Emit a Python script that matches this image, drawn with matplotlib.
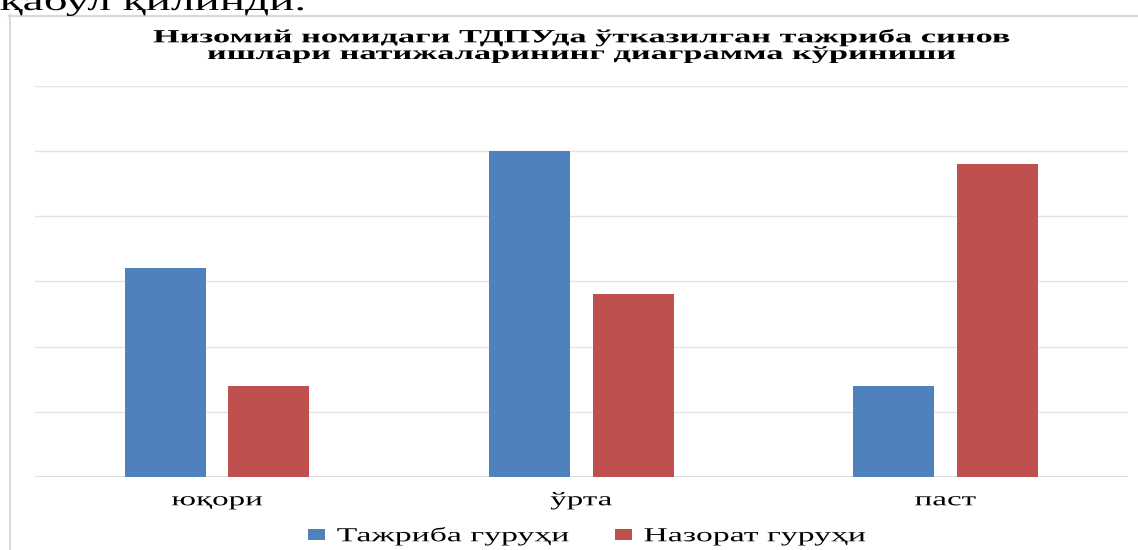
"""
Diagramma: Низомий номидаги ТДПУда тажриба синов ишлари натижалари
"""

import matplotlib
matplotlib.use('Agg')
import matplotlib.pyplot as plt
import numpy as np
from matplotlib.patheffects import AbstractPathEffect
from matplotlib.transforms import Affine2D
from matplotlib.lines import Line2D

# Data
categories = ['юқори', 'ўрта', 'паст']
tajriba = [3.2, 5.0, 1.4]
nazorat = [1.4, 2.8, 4.8]
series_names = ['Тажриба гуруҳи', 'Назорат гуруҳи']
title_lines = ['Низомий номидаги ТДПУда ўтказилган тажриба синов',
               'ишлари натижаларининг диаграмма кўриниши']
top_text = 'қабул қилинди.'

BLUE = '#4F81BD'
RED = '#C0504D'
GRID = '#E4E4E4'
AXIS = '#D9D9D9'
SX = 1.7          # the scanned chart is stretched sideways
W, H = 1138, 550

plt.rcParams['font.family'] = ['Liberation Serif', 'DejaVu Serif']


class Widen(AbstractPathEffect):
    """Stretch text horizontally around its centre (or left edge)."""

    def __init__(self, sx=SX, anchor='center'):
        super().__init__()
        self.sx = sx
        self.anchor = anchor

    def draw_path(self, renderer, gc, tpath, affine, rgbFace=None):
        bb = tpath.get_extents(affine)
        x0 = bb.x0 if self.anchor == 'left' else (bb.x0 + bb.x1) / 2
        t = affine + Affine2D().translate(-x0, 0).scale(self.sx, 1).translate(x0, 0)
        renderer.draw_path(gc, tpath, t, rgbFace)


fig = plt.figure(figsize=(W / 100, H / 100), dpi=100)
ax = fig.add_axes([35 / W, 1 - 477 / H, (1127.5 - 35) / W, (477 - 85.7) / H])

x = np.arange(len(categories))
bw, off = 0.2225, 0.1425
ax.bar(x - off, tajriba, bw, color=BLUE, label=series_names[0], zorder=3)
ax.bar(x + off, nazorat, bw, color=RED, label=series_names[1], zorder=3)

ax.set_xlim(-0.5, 2.5)
ax.set_ylim(0, 6)
ax.set_yticks(range(7))
ax.yaxis.grid(True, color=GRID, lw=1.0)
ax.set_axisbelow(True)
ax.axhline(0, color=AXIS, lw=1.2, zorder=2)
ax.tick_params(axis='y', length=0, labelleft=False)
ax.set_xticks(x, categories)
ax.tick_params(axis='x', length=0, pad=11, labelsize=14)
for s in ax.spines.values():
    s.set_visible(False)
for lab in ax.get_xticklabels():
    lab.set_path_effects([Widen()])

# Title (two lines)
fig.text(582 / W, 1 - 42.3 / H, title_lines[0], ha='center', va='baseline',
         fontsize=13.4, fontweight='bold', path_effects=[Widen(1.845)])
fig.text(582 / W, 1 - 59 / H, title_lines[1], ha='center', va='baseline',
         fontsize=13.4, fontweight='bold', path_effects=[Widen(1.845)])

# Cut-off text line from the page above the chart
fig.text(0, 1 - 10 / H, top_text, ha='left', va='baseline', fontsize=20,
         path_effects=[Widen(anchor='left')])

# Chart frame (left and top edges visible)
fig.add_artist(Line2D([9.5 / W, 9.5 / W], [0, 1 - 15 / H], color=AXIS, lw=1.5,
                      transform=fig.transFigure))
fig.add_artist(Line2D([9 / W, 1], [1 - 15.5 / H, 1 - 15.5 / H], color=AXIS, lw=1.5,
                      transform=fig.transFigure))

# Legend
fs = 14.3
fs_px = fs * 100 / 72
tmp = fig.text(0, 0, series_names[0], fontsize=fs)
w0 = tmp.get_window_extent(fig.canvas.get_renderer()).width
tmp.remove()
cs = (615 - 337 - w0) / fs_px

leg = fig.legend(loc='center left', bbox_to_anchor=(308 / W, 1 - 536 / H), ncol=2,
                 frameon=False, fontsize=fs, handlelength=17 / fs_px,
                 handleheight=10 / fs_px, handletextpad=0.6, columnspacing=cs,
                 borderpad=0, borderaxespad=0)
for t in leg.get_texts():
    t.set_path_effects([Widen(anchor='left')])

fig.savefig('out.png', dpi=100)
print('Saved out.png')
